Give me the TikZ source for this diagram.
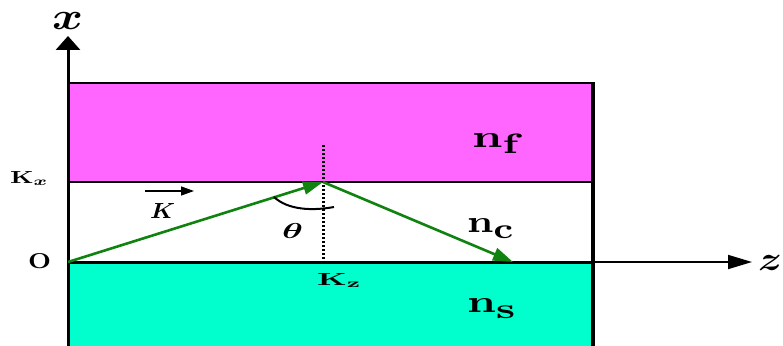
\documentclass[tikz,border=0pt]{standalone}
\usepackage{amsmath}
\usepackage{graphicx}
\usetikzlibrary{arrows.meta}
\definecolor{filmpink}{HTML}{FF66FF}
\definecolor{subscyan}{HTML}{00FFCC}
\definecolor{raygreen}{HTML}{0F820F}
\newcommand{\rsz}[3]{\resizebox{#1pt}{#2pt}{#3}}
\tikzset{
  txtlbl/.style={inner sep=0pt, anchor=base west},
  axisline/.style={black, line width=3pt},
  raypath/.style={raygreen, line width=2.6pt},
}
\begin{document}
\begin{tikzpicture}[x=1pt,y=1pt]
\useasboundingbox (0,0) rectangle (783,-345);
% layers
\fill[filmpink] (68,-83) rectangle (593,-182);
\fill[subscyan] (68,-262) rectangle (593,-350);
\draw[line width=2pt] (68,-83) -- (593,-83);
\draw[line width=2pt] (68,-182) -- (593,-182);
\draw[line width=3pt] (68,-262) -- (593,-262);
\draw[line width=3.5pt] (593,-82) -- (593,-350);
% coordinates
\coordinate (o) at (68,-262);
\coordinate (top) at (68,-36);
\coordinate (bot) at (68,-350);
\coordinate (zs) at (593,-262);
\coordinate (ze) at (752,-262);
\coordinate (p) at (323,-182);
\coordinate (q) at (513,-262);
\coordinate (dt) at (323,-145);
\coordinate (db) at (323,-262);
% axes
\draw[axisline, -{Triangle[length=14pt,width=24pt]}] (bot) -- (top);
\draw[line width=1.8pt, -{Triangle[length=24pt,width=14pt]}] (zs) -- (ze);
% dotted normal
\draw[line width=3pt, dash pattern=on 2.2pt off 1.8pt] (dt) -- (db);
% ray
\draw[raypath, -{Triangle[length=20pt,width=13pt]}] (o) -- (p);
\draw[raypath, -{Triangle[length=20pt,width=13pt]}] (p) -- (q);
% angle
\coordinate (a1) at (274,-197);
\coordinate (a2) at (334,-207);
\draw[line width=2pt] (a1) .. controls (288,-210) and (312,-211) .. (a2);
% K vector arrow
\coordinate (k1) at (145,-191);
\coordinate (k2) at (194,-191);
\draw[line width=1.4pt, -{Triangle[length=13pt,width=9pt]}] (k1) -- (k2);
% labels
\node[txtlbl] (xlab) at (52,-30) {\rsz{31}{17}{$\boldsymbol{x}$}};
\node[txtlbl] (zlab) at (758,-270) {\rsz{24}{15}{$\boldsymbol{z}$}};
\node[txtlbl] (kxlab) at (10,-183) {\rsz{37}{12}{\bfseries K\raisebox{-0.35ex}{$\boldsymbol{\scriptstyle x}$}}};
\node[txtlbl] (olab) at (28,-268) {\rsz{23}{15}{\bfseries O}};
\node[txtlbl] (kzlab) at (317,-285) {\rsz{43}{12}{\bfseries K\raisebox{-0.35ex}{\scriptsize z}}};
\node[txtlbl] (kvlab) at (150,-218) {\rsz{25}{15}{$\boldsymbol{K}$}};
\node[txtlbl] (thlab) at (282,-238) {\rsz{21}{15}{$\boldsymbol{\theta}$}};
\node[txtlbl] (nflab) at (472,-147) {\rsz{46}{14}{\bfseries n\raisebox{-0.45ex}{\small f}}};
\node[txtlbl] (nclab) at (467,-232) {\rsz{46}{14}{\bfseries n\raisebox{-0.45ex}{\small c}}};
\node[txtlbl] (nslab) at (467,-312) {\rsz{48}{14}{\bfseries n\raisebox{-0.45ex}{\small s}}};
\end{tikzpicture}
\end{document}
